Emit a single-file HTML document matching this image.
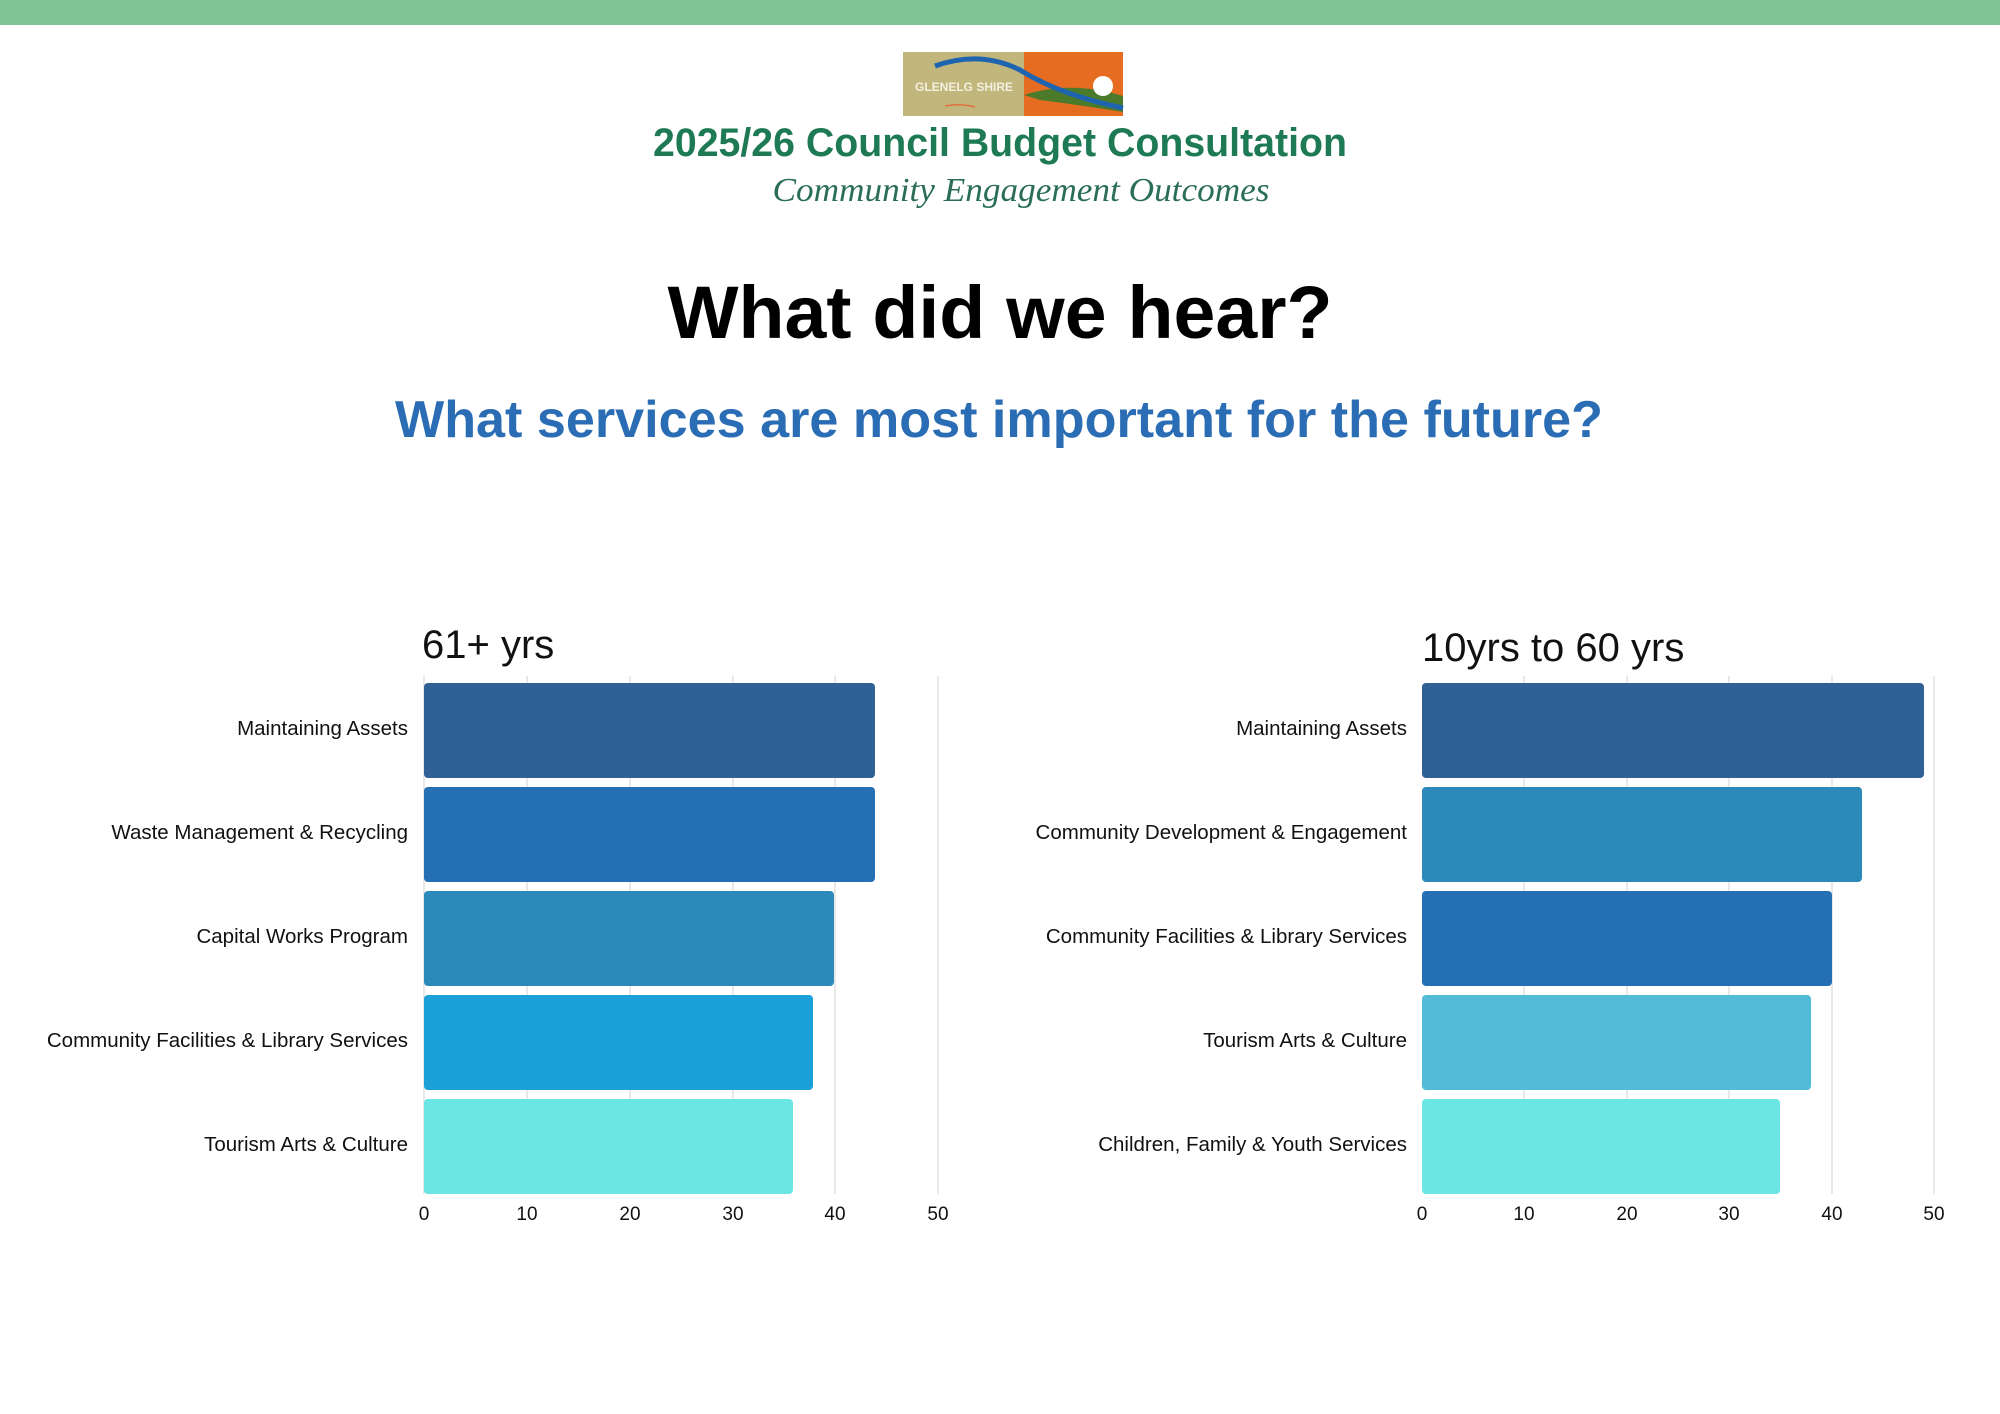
<!DOCTYPE html>
<html><head><meta charset="utf-8"><style>
html,body{margin:0;padding:0;background:#fff;}
svg{display:block}
</style></head><body>
<svg width="2000" height="1414" viewBox="0 0 2000 1414" xmlns="http://www.w3.org/2000/svg" font-family="Liberation Sans, sans-serif">
<rect width="2000" height="1414" fill="#fff"/>
<rect width="2000" height="25" fill="#80c495"/>
<!-- logo -->
<rect x="903" y="52" width="121" height="64" fill="#c1b67c"/>
<rect x="1024" y="52" width="99" height="64" fill="#e66c22"/>
<path d="M1024 95 Q1070 80 1123 96 L1123 112 Q1080 105 1040 100 Z" fill="#4a7a2a"/>
<circle cx="1103" cy="86" r="10" fill="#fff"/>
<path d="M935 66 Q980 50 1020 70 Q1060 95 1123 108" stroke="#1f64b0" stroke-width="5" fill="none"/>
<text x="964" y="91" font-size="12" font-weight="bold" fill="#f4f0e0" text-anchor="middle">GLENELG SHIRE</text>
<path d="M945 106 Q960 103 975 107" stroke="#e07040" stroke-width="1.5" fill="none"/>
<!-- titles -->
<text x="1000" y="156" font-size="40" font-weight="bold" fill="#1d7a55" text-anchor="middle" textLength="694" lengthAdjust="spacingAndGlyphs">2025/26 Council Budget Consultation</text>
<text x="1021" y="201" font-size="34" font-style="italic" font-family="Liberation Serif, serif" fill="#2a6e55" text-anchor="middle" textLength="497" lengthAdjust="spacingAndGlyphs">Community Engagement Outcomes</text>
<text x="1000" y="338" font-size="74" font-weight="bold" fill="#000" text-anchor="middle" textLength="665" lengthAdjust="spacingAndGlyphs">What did we hear?</text>
<text x="999" y="437" font-size="52" font-weight="bold" fill="#2a6db5" text-anchor="middle" textLength="1208" lengthAdjust="spacingAndGlyphs">What services are most important for the future?</text>

<!-- left chart -->
<text x="422" y="658" font-size="40" fill="#111">61+ yrs</text>
<g stroke="#e2e2e2" stroke-width="1.5">
<line x1="527" y1="676" x2="527" y2="1194"/><line x1="630" y1="676" x2="630" y2="1194"/>
<line x1="733" y1="676" x2="733" y2="1194"/><line x1="835" y1="676" x2="835" y2="1194"/>
<line x1="938" y1="676" x2="938" y2="1194"/><line x1="424" y1="676" x2="424" y2="1194"/>
</g>
<g>
<rect x="424" y="683" width="451" height="95" rx="4" fill="#2f6096"/>
<rect x="424" y="787" width="451" height="95" rx="4" fill="#2570b5"/>
<rect x="424" y="891" width="410" height="95" rx="4" fill="#2c8aba"/>
<rect x="424" y="995" width="389" height="95" rx="4" fill="#1ba0d8"/>
<rect x="424" y="1099" width="369" height="95" rx="4" fill="#6ce5e5"/>
</g>
<g font-size="20.5" fill="#111" text-anchor="end">
<text x="408" y="735">Maintaining Assets</text>
<text x="408" y="839">Waste Management &amp; Recycling</text>
<text x="408" y="943">Capital Works Program</text>
<text x="408" y="1047">Community Facilities &amp; Library Services</text>
<text x="408" y="1151">Tourism Arts &amp; Culture</text>
</g>
<g font-size="19" fill="#111" text-anchor="middle">
<text x="424" y="1220">0</text><text x="527" y="1220">10</text><text x="630" y="1220">20</text>
<text x="733" y="1220">30</text><text x="835" y="1220">40</text><text x="938" y="1220">50</text>
</g>

<!-- right chart -->
<text x="1422" y="661" font-size="40" fill="#111">10yrs to 60 yrs</text>
<g stroke="#e2e2e2" stroke-width="1.5">
<line x1="1524" y1="676" x2="1524" y2="1194"/><line x1="1627" y1="676" x2="1627" y2="1194"/>
<line x1="1729" y1="676" x2="1729" y2="1194"/><line x1="1832" y1="676" x2="1832" y2="1194"/>
<line x1="1934" y1="676" x2="1934" y2="1194"/>
</g>
<g>
<rect x="1422" y="683" width="502" height="95" rx="4" fill="#2f6096"/>
<rect x="1422" y="787" width="440" height="95" rx="4" fill="#2c8aba"/>
<rect x="1422" y="891" width="410" height="95" rx="4" fill="#2570b5"/>
<rect x="1422" y="995" width="389" height="95" rx="4" fill="#52bcd8"/>
<rect x="1422" y="1099" width="358" height="95" rx="4" fill="#6ce5e5"/>
</g>
<g font-size="20.5" fill="#111" text-anchor="end">
<text x="1407" y="735">Maintaining Assets</text>
<text x="1407" y="839">Community Development &amp; Engagement</text>
<text x="1407" y="943">Community Facilities &amp; Library Services</text>
<text x="1407" y="1047">Tourism Arts &amp; Culture</text>
<text x="1407" y="1151">Children, Family &amp; Youth Services</text>
</g>
<g font-size="19" fill="#111" text-anchor="middle">
<text x="1422" y="1220">0</text><text x="1524" y="1220">10</text><text x="1627" y="1220">20</text>
<text x="1729" y="1220">30</text><text x="1832" y="1220">40</text><text x="1934" y="1220">50</text>
</g>
</svg>
</body></html>
